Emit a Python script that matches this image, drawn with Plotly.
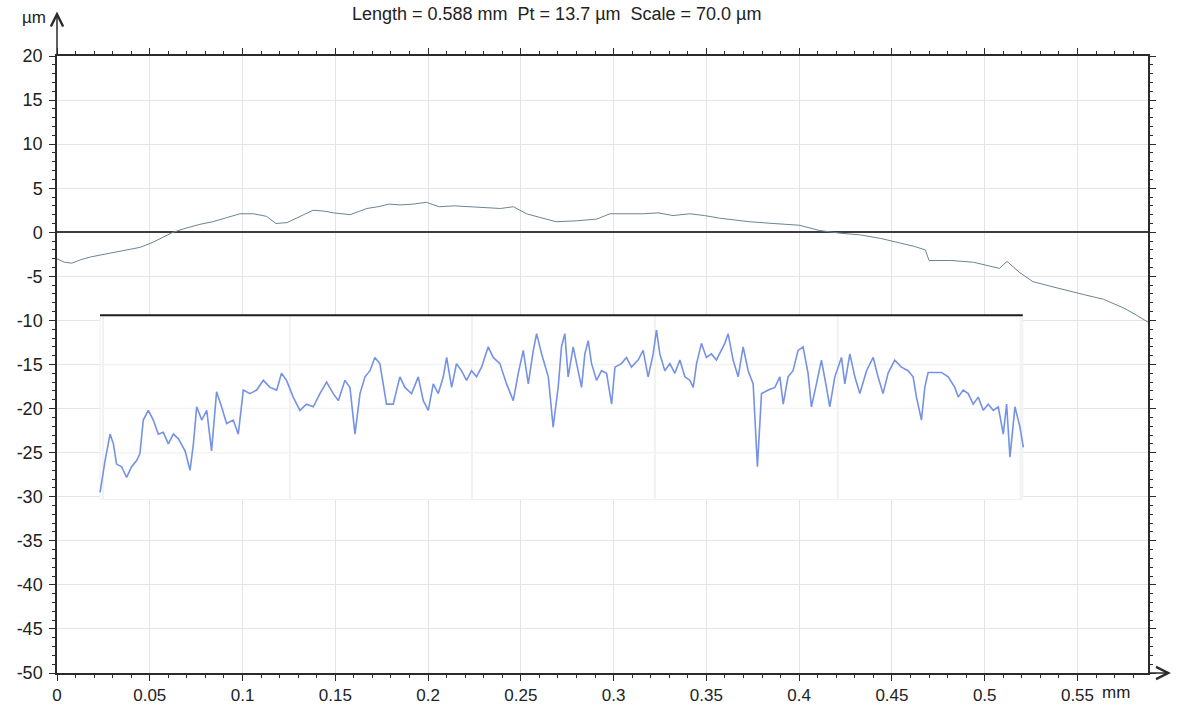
import plotly.graph_objects as go

# Primary surface profile (mm, µm)
profile_x = [0.0, 0.004, 0.008, 0.013, 0.018, 0.023, 0.030, 0.038, 0.045, 0.052, 0.0625,
             0.070, 0.077, 0.084, 0.092, 0.0986, 0.106, 0.113, 0.118, 0.124, 0.131,
             0.138, 0.144, 0.149, 0.158, 0.167, 0.173, 0.179, 0.185, 0.192, 0.199,
             0.206, 0.214, 0.221, 0.230, 0.239, 0.246, 0.253, 0.260, 0.269, 0.280,
             0.291, 0.298, 0.307, 0.316, 0.324, 0.332, 0.341, 0.349, 0.357, 0.365,
             0.373, 0.386, 0.400, 0.411, 0.422, 0.433, 0.444, 0.454, 0.462, 0.468,
             0.470, 0.482, 0.494, 0.508, 0.512, 0.519, 0.526, 0.535, 0.544, 0.554,
             0.564, 0.575, 0.581, 0.588]
profile_y = [-3.0, -3.4, -3.5, -3.1, -2.8, -2.6, -2.3, -2.0, -1.7, -1.1, 0.0,
             0.5, 0.9, 1.2, 1.7, 2.1, 2.1, 1.8, 1.0, 1.1, 1.8,
             2.5, 2.4, 2.2, 2.0, 2.7, 2.9, 3.2, 3.1, 3.2, 3.4,
             2.9, 3.0, 2.9, 2.8, 2.7, 2.9, 2.1, 1.7, 1.2, 1.3,
             1.5, 2.1, 2.1, 2.1, 2.2, 1.9, 2.1, 1.9, 1.6, 1.4,
             1.2, 1.0, 0.8, 0.2, -0.1, -0.3, -0.7, -1.2, -1.6, -2.0,
             -3.2, -3.2, -3.4, -4.1, -3.3, -4.6, -5.6, -6.1, -6.6, -7.1,
             -7.6, -8.6, -9.3, -10.2]

# Roughness profile drawn in the inset panel (mm, µm on the main axes)
rough_x = [0.0232, 0.0259, 0.0286, 0.0304, 0.0321, 0.0348, 0.0375, 0.0402, 0.0429, 0.0447,
           0.0465, 0.0492, 0.0519, 0.0546, 0.0573, 0.0600, 0.0627, 0.0654, 0.0690, 0.0717,
           0.0735, 0.0753, 0.0780, 0.0807, 0.0833, 0.0860, 0.0887, 0.0914, 0.0950, 0.0977,
           0.1004, 0.1040, 0.1076, 0.1112, 0.1148, 0.1184, 0.1210, 0.1237, 0.1273, 0.1309,
           0.1345, 0.1381, 0.1417, 0.1453, 0.1489, 0.1516, 0.1552, 0.1579, 0.1606, 0.1633,
           0.1660, 0.1687, 0.1713, 0.1740, 0.1776, 0.1812, 0.1848, 0.1875, 0.1911, 0.1947,
           0.1974, 0.2001, 0.2028, 0.2055, 0.2082, 0.2100, 0.2127, 0.2153, 0.2180, 0.2207,
           0.2234, 0.2261, 0.2288, 0.2324, 0.2351, 0.2387, 0.2423, 0.2459, 0.2486, 0.2513,
           0.2540, 0.2567, 0.2585, 0.2612, 0.2648, 0.2674, 0.2701, 0.2719, 0.2737, 0.2755,
           0.2782, 0.2809, 0.2827, 0.2845, 0.2863, 0.2881, 0.2908, 0.2935, 0.2962, 0.2989,
           0.3007, 0.3042, 0.3069, 0.3096, 0.3132, 0.3159, 0.3186, 0.3213, 0.3231, 0.3249,
           0.3276, 0.3303, 0.3330, 0.3357, 0.3384, 0.3411, 0.3429, 0.3447, 0.3473, 0.3500,
           0.3527, 0.3554, 0.3581, 0.3599, 0.3617, 0.3644, 0.3671, 0.3698, 0.3725, 0.3752,
           0.3775, 0.3797, 0.3833, 0.3869, 0.3896, 0.3914, 0.3940, 0.3967, 0.3994, 0.4021,
           0.4048, 0.4066, 0.4093, 0.4120, 0.4147, 0.4165, 0.4192, 0.4228, 0.4246, 0.4273,
           0.4300, 0.4327, 0.4363, 0.4399, 0.4425, 0.4452, 0.4479, 0.4515, 0.4551, 0.4587,
           0.4614, 0.4632, 0.4659, 0.4677, 0.4695, 0.4767, 0.4803, 0.4839, 0.4857, 0.4884,
           0.4911, 0.4938, 0.4965, 0.4992, 0.5019, 0.5046, 0.5073, 0.5100, 0.5118, 0.5136,
           0.5163, 0.5190, 0.5208]
rough_y = [-29.5, -25.9, -22.9, -24.0, -26.3, -26.6, -27.8, -26.6, -25.9, -25.1,
           -21.3, -20.2, -21.3, -22.9, -22.7, -24.0, -22.9, -23.4, -24.8, -27.0,
           -24.0, -19.8, -21.3, -20.2, -24.8, -18.1, -19.8, -21.7, -21.3, -22.9,
           -17.9, -18.3, -17.9, -16.8, -17.6, -17.9, -16.0, -16.8, -18.7, -20.2,
           -19.5, -19.8, -18.3, -17.0, -18.3, -19.1, -16.8, -17.6, -22.9, -18.3,
           -16.4, -15.7, -14.2, -14.9, -19.5, -19.5, -16.4, -17.6, -18.3, -16.4,
           -19.1, -20.2, -17.2, -18.3, -16.4, -14.2, -17.6, -14.9, -15.7, -16.8,
           -15.7, -16.4, -15.3, -13.0, -14.2, -14.9, -17.2, -19.1, -16.0, -13.4,
           -17.2, -13.4, -11.5, -13.8, -16.4, -22.1, -17.6, -13.0, -11.5, -16.4,
           -13.0, -15.7, -17.6, -13.8, -12.3, -14.9, -16.8, -15.7, -16.0, -19.5,
           -15.3, -14.9, -14.2, -15.3, -14.5, -13.4, -16.4, -13.8, -11.1, -13.8,
           -15.7, -14.9, -16.0, -14.5, -16.4, -16.8, -17.6, -14.9, -12.6, -14.2,
           -13.8, -14.5, -13.4, -12.6, -11.5, -14.5, -16.4, -13.0, -15.7, -17.2,
           -26.6, -18.3, -17.9, -17.6, -16.4, -19.5, -16.4, -15.7, -13.4, -13.0,
           -16.0, -19.8, -17.2, -14.5, -17.6, -19.8, -16.4, -14.2, -17.2, -13.8,
           -16.4, -18.3, -15.7, -14.2, -16.4, -18.3, -16.0, -14.5, -15.3, -15.7,
           -16.4, -18.7, -21.3, -17.6, -15.9, -15.9, -16.4, -17.6, -18.7, -17.9,
           -18.3, -19.5, -18.7, -20.2, -19.5, -20.2, -19.8, -22.9, -19.5, -25.5,
           -19.8, -22.1, -24.4]

x_tick_vals = [0, 0.05, 0.1, 0.15, 0.2, 0.25, 0.3, 0.35, 0.4, 0.45, 0.5, 0.55]
x_tick_text = ["0", "0.05", "0.1", "0.15", "0.2", "0.25", "0.3", "0.35", "0.4", "0.45", "0.5", "0.55"]
y_tick_vals = [20, 15, 10, 5, 0, -5, -10, -15, -20, -25, -30, -35, -40, -45, -50]
y_tick_text = ["20", "15", "10", "5", "0", "-5", "-10", "-15", "-20", "-25", "-30",
               "-35", "-40", "-45", "-50"]

profile_length = 0.588
title_text = "Length = 0.588 mm  Pt = 13.7 µm  Scale = 70.0 µm"

# inset panel extent (main-axis units)
INSET_X0, INSET_X1 = 0.0232, 0.5205
INSET_Y0, INSET_Y1 = -30.3, -9.4
inset_vgrid = [0.0248, 0.1255, 0.2236, 0.3222, 0.4208, 0.5194]
inset_hgrid = [-15, -20, -25]

AXIS = "#2b2b2b"
GRID = "#e4e4e4"
FONT = "Liberation Sans, Arial, sans-serif"

fig = go.Figure()

fig.add_trace(go.Scatter(
    x=profile_x, y=profile_y, mode="lines",
    line=dict(color="#6a8592", width=1), hoverinfo="skip", showlegend=False))

fig.add_trace(go.Scatter(
    x=rough_x, y=rough_y, mode="lines",
    line=dict(color="#7592e4", width=1.6), hoverinfo="skip", showlegend=False))

shapes = [
    dict(type="rect", xref="x", yref="y", x0=INSET_X0, x1=INSET_X1, y0=INSET_Y0, y1=INSET_Y1,
         fillcolor="white", line=dict(color="#efefef", width=1), layer="between"),
]
for gx in inset_vgrid:
    shapes.append(dict(type="line", xref="x", yref="y", x0=gx, x1=gx, y0=INSET_Y0, y1=INSET_Y1,
                       line=dict(color="#f1f1f1", width=2), layer="between"))
for gy in inset_hgrid:
    shapes.append(dict(type="line", xref="x", yref="y", x0=INSET_X0, x1=INSET_X1, y0=gy, y1=gy,
                       line=dict(color="#f3f3f3", width=1.5), layer="between"))
shapes.append(dict(type="line", xref="x", yref="y", x0=INSET_X0, x1=INSET_X1,
                   y0=INSET_Y1, y1=INSET_Y1, line=dict(color="#1e1e1e", width=2)))

annotations = [
    dict(text=title_text, xref="paper", yref="paper", x=0.458, y=1.068,
         xanchor="center", yanchor="middle", showarrow=False,
         font=dict(size=18, color="#222", family=FONT)),
    dict(text="µm", xref="paper", yref="paper", x=-0.021, y=1.062,
         xanchor="center", yanchor="middle", showarrow=False,
         font=dict(size=17, color="#222", family=FONT)),
    dict(text="mm", xref="paper", yref="paper", x=0.9705, y=-0.031,
         xanchor="center", yanchor="middle", showarrow=False,
         font=dict(size=17, color="#222", family=FONT)),
    # axis arrows
    dict(xref="paper", yref="paper", x=0, y=1.072, ax=0, ay=44, axref="pixel", ayref="pixel",
         showarrow=True, arrowhead=5, arrowsize=1.6, arrowwidth=1.5, arrowcolor=AXIS, text=""),
    dict(xref="paper", yref="paper", x=1.021, y=0, ax=-24, ay=0,
         showarrow=True, arrowhead=5, arrowsize=1.6, arrowwidth=1.5, arrowcolor=AXIS, text=""),
]

axis_common = dict(
    showgrid=True, gridcolor=GRID, gridwidth=1,
    showline=True, linecolor=AXIS, linewidth=1.5, mirror="ticks",
    ticks="outside", ticklen=6, tickcolor=AXIS, tickwidth=1.2,
    automargin=False,
)

fig.update_layout(
    width=1191, height=708,
    margin=dict(l=57, r=43, t=56, b=35),
    paper_bgcolor="white", plot_bgcolor="white",
    showlegend=False,
    shapes=shapes, annotations=annotations,
    xaxis=dict(range=[0, profile_length], tickvals=x_tick_vals, ticktext=x_tick_text,
               minor=dict(dtick=0.01, tick0=0, ticks="outside", ticklen=3,
                          tickcolor=AXIS, showgrid=False),
               tickfont=dict(size=17, color="#222", family=FONT),
               zeroline=False, **axis_common),
    yaxis=dict(range=[-50, 20], tickvals=y_tick_vals, ticktext=y_tick_text,
               minor=dict(dtick=1, tick0=0, ticks="outside", ticklen=3,
                          tickcolor=AXIS, showgrid=False),
               tickfont=dict(size=18, color="#222", family=FONT),
               zeroline=True, zerolinecolor="#3c3c3c", zerolinewidth=2,
               ticklabelstandoff=3, **axis_common),
)

fig.write_html("out.html")
